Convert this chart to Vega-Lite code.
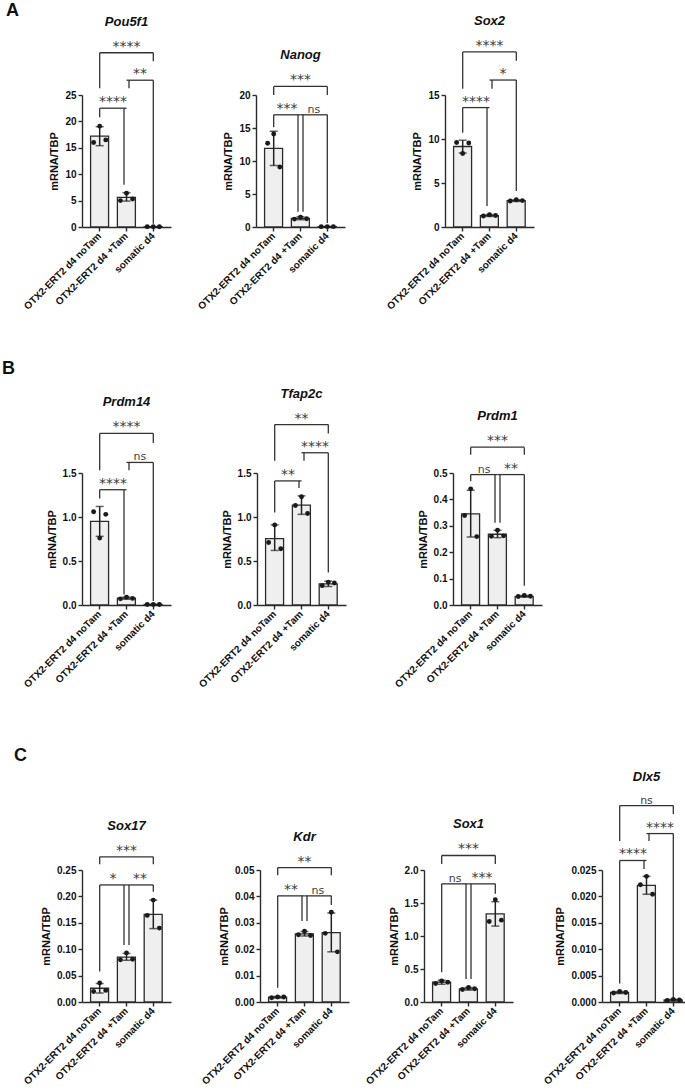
{
"$schema": "https://vega.github.io/schema/vega-lite/v6.json",
"padding": {"left": 1, "top": 1, "right": 0, "bottom": 0},
"config": {
 "view": {"stroke": null},
 "axis": {"labelFont": "Liberation Sans", "labelFontWeight": "bold", "labelFontSize": 10, "labelColor": "#111", "titleFont": "Liberation Sans", "titleFontWeight": "bold", "titleFontSize": 11, "titleColor": "#111", "domainColor": "#2b2b2b", "domainWidth": 1.4, "tickColor": "#2b2b2b", "tickWidth": 1.4, "tickSize": 4, "grid": false, "labelOverlap": false, "labelFlush": false},
 "axisX": {"labelAngle": -45, "labelAlign": "right", "labelBaseline": "middle", "labelPadding": 3},
 "axisY": {"labelPadding": 2, "titlePadding": 5},
 "title": {"font": "Liberation Sans", "fontSize": 13, "fontStyle": "italic", "fontWeight": "bold", "color": "#111", "offset": 11, "anchor": "middle", "frame": "group"},
 "rule": {"stroke": "#333", "strokeWidth": 1.3},
 "tick": {"color": "#222", "thickness": 1.5},
 "text": {"font": "DejaVu Sans", "baseline": "alphabetic", "dy": -2, "color": "#3c3c3c"},
 "bar": {"fill": "#eeefee", "stroke": "#2b2b2b", "strokeWidth": 1.3},
 "circle": {"size": 24, "color": "#1a1a1a", "opacity": 1}
},
"datasets": {
 "bars": [
  {"gene":"Pou5f1","group":"OTX2-ERT2 d4 noTam","mean":17.2,"lo":15.4,"hi":19.0},
  {"gene":"Pou5f1","group":"OTX2-ERT2 d4 +Tam","mean":5.6,"lo":4.9,"hi":6.5},
  {"gene":"Pou5f1","group":"somatic d4","mean":0.05,"lo":0.03,"hi":0.07},
  {"gene":"Nanog","group":"OTX2-ERT2 d4 noTam","mean":11.9,"lo":9.3,"hi":14.5},
  {"gene":"Nanog","group":"OTX2-ERT2 d4 +Tam","mean":1.3,"lo":1.1,"hi":1.55},
  {"gene":"Nanog","group":"somatic d4","mean":0.06,"lo":0.04,"hi":0.08},
  {"gene":"Sox2","group":"OTX2-ERT2 d4 noTam","mean":9.15,"lo":8.4,"hi":9.85},
  {"gene":"Sox2","group":"OTX2-ERT2 d4 +Tam","mean":1.3,"lo":1.2,"hi":1.42},
  {"gene":"Sox2","group":"somatic d4","mean":3.0,"lo":2.9,"hi":3.1},
  {"gene":"Prdm14","group":"OTX2-ERT2 d4 noTam","mean":0.95,"lo":0.78,"hi":1.12},
  {"gene":"Prdm14","group":"OTX2-ERT2 d4 +Tam","mean":0.077,"lo":0.065,"hi":0.09},
  {"gene":"Prdm14","group":"somatic d4","mean":0.006,"lo":0.004,"hi":0.008},
  {"gene":"Tfap2c","group":"OTX2-ERT2 d4 noTam","mean":0.755,"lo":0.62,"hi":0.91},
  {"gene":"Tfap2c","group":"OTX2-ERT2 d4 +Tam","mean":1.135,"lo":1.03,"hi":1.24},
  {"gene":"Tfap2c","group":"somatic d4","mean":0.24,"lo":0.21,"hi":0.27},
  {"gene":"Prdm1","group":"OTX2-ERT2 d4 noTam","mean":0.345,"lo":0.258,"hi":0.435},
  {"gene":"Prdm1","group":"OTX2-ERT2 d4 +Tam","mean":0.268,"lo":0.255,"hi":0.283},
  {"gene":"Prdm1","group":"somatic d4","mean":0.033,"lo":0.03,"hi":0.036},
  {"gene":"Sox17","group":"OTX2-ERT2 d4 noTam","mean":0.026,"lo":0.017,"hi":0.035},
  {"gene":"Sox17","group":"OTX2-ERT2 d4 +Tam","mean":0.085,"lo":0.079,"hi":0.092},
  {"gene":"Sox17","group":"somatic d4","mean":0.166,"lo":0.139,"hi":0.193},
  {"gene":"Kdr","group":"OTX2-ERT2 d4 noTam","mean":0.0018,"lo":0.0015,"hi":0.0021},
  {"gene":"Kdr","group":"OTX2-ERT2 d4 +Tam","mean":0.0258,"lo":0.025,"hi":0.0267},
  {"gene":"Kdr","group":"somatic d4","mean":0.0263,"lo":0.019,"hi":0.0337},
  {"gene":"Sox1","group":"OTX2-ERT2 d4 noTam","mean":0.3,"lo":0.27,"hi":0.33},
  {"gene":"Sox1","group":"OTX2-ERT2 d4 +Tam","mean":0.2,"lo":0.18,"hi":0.22},
  {"gene":"Sox1","group":"somatic d4","mean":1.335,"lo":1.15,"hi":1.52},
  {"gene":"Dlx5","group":"OTX2-ERT2 d4 noTam","mean":0.0018,"lo":0.0016,"hi":0.002},
  {"gene":"Dlx5","group":"OTX2-ERT2 d4 +Tam","mean":0.0221,"lo":0.0204,"hi":0.0238},
  {"gene":"Dlx5","group":"somatic d4","mean":0.0004,"lo":0.0003,"hi":0.0005}
 ],
 "pts": [
  {"gene":"Pou5f1","group":"OTX2-ERT2 d4 noTam","rep":1,"value":16.0},{"gene":"Pou5f1","group":"OTX2-ERT2 d4 noTam","rep":2,"value":19.1},{"gene":"Pou5f1","group":"OTX2-ERT2 d4 noTam","rep":3,"value":16.5},
  {"gene":"Pou5f1","group":"OTX2-ERT2 d4 +Tam","rep":1,"value":5.0},{"gene":"Pou5f1","group":"OTX2-ERT2 d4 +Tam","rep":2,"value":6.4},{"gene":"Pou5f1","group":"OTX2-ERT2 d4 +Tam","rep":3,"value":5.3},
  {"gene":"Pou5f1","group":"somatic d4","rep":1,"value":0.05},{"gene":"Pou5f1","group":"somatic d4","rep":2,"value":0.05},{"gene":"Pou5f1","group":"somatic d4","rep":3,"value":0.05},
  {"gene":"Nanog","group":"OTX2-ERT2 d4 noTam","rep":1,"value":12.7},{"gene":"Nanog","group":"OTX2-ERT2 d4 noTam","rep":2,"value":14.1},{"gene":"Nanog","group":"OTX2-ERT2 d4 noTam","rep":3,"value":9.1},
  {"gene":"Nanog","group":"OTX2-ERT2 d4 +Tam","rep":1,"value":1.2},{"gene":"Nanog","group":"OTX2-ERT2 d4 +Tam","rep":2,"value":1.5},{"gene":"Nanog","group":"OTX2-ERT2 d4 +Tam","rep":3,"value":1.25},
  {"gene":"Nanog","group":"somatic d4","rep":1,"value":0.05},{"gene":"Nanog","group":"somatic d4","rep":2,"value":0.06},{"gene":"Nanog","group":"somatic d4","rep":3,"value":0.05},
  {"gene":"Sox2","group":"OTX2-ERT2 d4 noTam","rep":1,"value":9.6},{"gene":"Sox2","group":"OTX2-ERT2 d4 noTam","rep":2,"value":8.35},{"gene":"Sox2","group":"OTX2-ERT2 d4 noTam","rep":3,"value":9.55},
  {"gene":"Sox2","group":"OTX2-ERT2 d4 +Tam","rep":1,"value":1.25},{"gene":"Sox2","group":"OTX2-ERT2 d4 +Tam","rep":2,"value":1.4},{"gene":"Sox2","group":"OTX2-ERT2 d4 +Tam","rep":3,"value":1.3},
  {"gene":"Sox2","group":"somatic d4","rep":1,"value":2.95},{"gene":"Sox2","group":"somatic d4","rep":2,"value":3.1},{"gene":"Sox2","group":"somatic d4","rep":3,"value":3.0},
  {"gene":"Prdm14","group":"OTX2-ERT2 d4 noTam","rep":1,"value":1.06},{"gene":"Prdm14","group":"OTX2-ERT2 d4 noTam","rep":2,"value":0.76},{"gene":"Prdm14","group":"OTX2-ERT2 d4 noTam","rep":3,"value":1.03},
  {"gene":"Prdm14","group":"OTX2-ERT2 d4 +Tam","rep":1,"value":0.07},{"gene":"Prdm14","group":"OTX2-ERT2 d4 +Tam","rep":2,"value":0.09},{"gene":"Prdm14","group":"OTX2-ERT2 d4 +Tam","rep":3,"value":0.075},
  {"gene":"Prdm14","group":"somatic d4","rep":1,"value":0.005},{"gene":"Prdm14","group":"somatic d4","rep":2,"value":0.006},{"gene":"Prdm14","group":"somatic d4","rep":3,"value":0.005},
  {"gene":"Tfap2c","group":"OTX2-ERT2 d4 noTam","rep":1,"value":0.71},{"gene":"Tfap2c","group":"OTX2-ERT2 d4 noTam","rep":2,"value":0.91},{"gene":"Tfap2c","group":"OTX2-ERT2 d4 noTam","rep":3,"value":0.64},
  {"gene":"Tfap2c","group":"OTX2-ERT2 d4 +Tam","rep":1,"value":1.13},{"gene":"Tfap2c","group":"OTX2-ERT2 d4 +Tam","rep":2,"value":1.23},{"gene":"Tfap2c","group":"OTX2-ERT2 d4 +Tam","rep":3,"value":1.04},
  {"gene":"Tfap2c","group":"somatic d4","rep":1,"value":0.22},{"gene":"Tfap2c","group":"somatic d4","rep":2,"value":0.26},{"gene":"Tfap2c","group":"somatic d4","rep":3,"value":0.25},
  {"gene":"Prdm1","group":"OTX2-ERT2 d4 noTam","rep":1,"value":0.339},{"gene":"Prdm1","group":"OTX2-ERT2 d4 noTam","rep":2,"value":0.44},{"gene":"Prdm1","group":"OTX2-ERT2 d4 noTam","rep":3,"value":0.259},
  {"gene":"Prdm1","group":"OTX2-ERT2 d4 +Tam","rep":1,"value":0.26},{"gene":"Prdm1","group":"OTX2-ERT2 d4 +Tam","rep":2,"value":0.283},{"gene":"Prdm1","group":"OTX2-ERT2 d4 +Tam","rep":3,"value":0.262},
  {"gene":"Prdm1","group":"somatic d4","rep":1,"value":0.032},{"gene":"Prdm1","group":"somatic d4","rep":2,"value":0.036},{"gene":"Prdm1","group":"somatic d4","rep":3,"value":0.033},
  {"gene":"Sox17","group":"OTX2-ERT2 d4 noTam","rep":1,"value":0.02},{"gene":"Sox17","group":"OTX2-ERT2 d4 noTam","rep":2,"value":0.036},{"gene":"Sox17","group":"OTX2-ERT2 d4 noTam","rep":3,"value":0.022},
  {"gene":"Sox17","group":"OTX2-ERT2 d4 +Tam","rep":1,"value":0.08},{"gene":"Sox17","group":"OTX2-ERT2 d4 +Tam","rep":2,"value":0.093},{"gene":"Sox17","group":"OTX2-ERT2 d4 +Tam","rep":3,"value":0.081},
  {"gene":"Sox17","group":"somatic d4","rep":1,"value":0.164},{"gene":"Sox17","group":"somatic d4","rep":2,"value":0.193},{"gene":"Sox17","group":"somatic d4","rep":3,"value":0.14},
  {"gene":"Kdr","group":"OTX2-ERT2 d4 noTam","rep":1,"value":0.0016},{"gene":"Kdr","group":"OTX2-ERT2 d4 noTam","rep":2,"value":0.0019},{"gene":"Kdr","group":"OTX2-ERT2 d4 noTam","rep":3,"value":0.0019},
  {"gene":"Kdr","group":"OTX2-ERT2 d4 +Tam","rep":1,"value":0.0255},{"gene":"Kdr","group":"OTX2-ERT2 d4 +Tam","rep":2,"value":0.0268},{"gene":"Kdr","group":"OTX2-ERT2 d4 +Tam","rep":3,"value":0.0252},
  {"gene":"Kdr","group":"somatic d4","rep":1,"value":0.026},{"gene":"Kdr","group":"somatic d4","rep":2,"value":0.034},{"gene":"Kdr","group":"somatic d4","rep":3,"value":0.019},
  {"gene":"Sox1","group":"OTX2-ERT2 d4 noTam","rep":1,"value":0.28},{"gene":"Sox1","group":"OTX2-ERT2 d4 noTam","rep":2,"value":0.32},{"gene":"Sox1","group":"OTX2-ERT2 d4 noTam","rep":3,"value":0.3},
  {"gene":"Sox1","group":"OTX2-ERT2 d4 +Tam","rep":1,"value":0.19},{"gene":"Sox1","group":"OTX2-ERT2 d4 +Tam","rep":2,"value":0.22},{"gene":"Sox1","group":"OTX2-ERT2 d4 +Tam","rep":3,"value":0.2},
  {"gene":"Sox1","group":"somatic d4","rep":1,"value":1.22},{"gene":"Sox1","group":"somatic d4","rep":2,"value":1.55},{"gene":"Sox1","group":"somatic d4","rep":3,"value":1.24},
  {"gene":"Dlx5","group":"OTX2-ERT2 d4 noTam","rep":1,"value":0.0017},{"gene":"Dlx5","group":"OTX2-ERT2 d4 noTam","rep":2,"value":0.002},{"gene":"Dlx5","group":"OTX2-ERT2 d4 noTam","rep":3,"value":0.0018},
  {"gene":"Dlx5","group":"OTX2-ERT2 d4 +Tam","rep":1,"value":0.0222},{"gene":"Dlx5","group":"OTX2-ERT2 d4 +Tam","rep":2,"value":0.0238},{"gene":"Dlx5","group":"OTX2-ERT2 d4 +Tam","rep":3,"value":0.0204},
  {"gene":"Dlx5","group":"somatic d4","rep":1,"value":0.0003},{"gene":"Dlx5","group":"somatic d4","rep":2,"value":0.0005},{"gene":"Dlx5","group":"somatic d4","rep":3,"value":0.0004}
 ],
 "br": [
  {"gene":"Pou5f1","g1":"OTX2-ERT2 d4 noTam","g2":"OTX2-ERT2 d4 +Tam","y":22.5,"yl":20.8,"yr":8.0,"label":"****"},
  {"gene":"Pou5f1","g1":"OTX2-ERT2 d4 +Tam","g2":"somatic d4","y":27.8,"yl":26.3,"yr":0.6,"label":"**"},
  {"gene":"Pou5f1","g1":"OTX2-ERT2 d4 noTam","g2":"somatic d4","y":33.0,"yl":26.3,"yr":31.4,"label":"****"},
  {"gene":"Nanog","g1":"OTX2-ERT2 d4 noTam","g2":"OTX2-ERT2 d4 +Tam","y":17.0,"yl":15.1,"yr":2.3,"label":"***"},
  {"gene":"Nanog","g1":"OTX2-ERT2 d4 +Tam","g2":"somatic d4","y":17.0,"yl":2.3,"yr":0.6,"label":"ns"},
  {"gene":"Nanog","g1":"OTX2-ERT2 d4 noTam","g2":"somatic d4","y":21.3,"yl":20.0,"yr":20.0,"label":"***"},
  {"gene":"Sox2","g1":"OTX2-ERT2 d4 noTam","g2":"OTX2-ERT2 d4 +Tam","y":13.57,"yl":10.7,"yr":2.4,"label":"****"},
  {"gene":"Sox2","g1":"OTX2-ERT2 d4 +Tam","g2":"somatic d4","y":16.7,"yl":15.7,"yr":4.1,"label":"*"},
  {"gene":"Sox2","g1":"OTX2-ERT2 d4 noTam","g2":"somatic d4","y":19.9,"yl":15.7,"yr":18.9,"label":"****"},
  {"gene":"Prdm14","g1":"OTX2-ERT2 d4 noTam","g2":"OTX2-ERT2 d4 +Tam","y":1.31,"yl":1.21,"yr":0.12,"label":"****"},
  {"gene":"Prdm14","g1":"OTX2-ERT2 d4 +Tam","g2":"somatic d4","y":1.62,"yl":1.53,"yr":0.045,"label":"ns"},
  {"gene":"Prdm14","g1":"OTX2-ERT2 d4 noTam","g2":"somatic d4","y":1.95,"yl":1.53,"yr":1.84,"label":"****"},
  {"gene":"Tfap2c","g1":"OTX2-ERT2 d4 noTam","g2":"OTX2-ERT2 d4 +Tam","y":1.41,"yl":1.05,"yr":1.33,"label":"**"},
  {"gene":"Tfap2c","g1":"OTX2-ERT2 d4 +Tam","g2":"somatic d4","y":1.73,"yl":1.64,"yr":0.37,"label":"****"},
  {"gene":"Tfap2c","g1":"OTX2-ERT2 d4 noTam","g2":"somatic d4","y":2.05,"yl":1.64,"yr":1.95,"label":"**"},
  {"gene":"Prdm1","g1":"OTX2-ERT2 d4 noTam","g2":"OTX2-ERT2 d4 +Tam","y":0.494,"yl":0.469,"yr":0.312,"label":"ns"},
  {"gene":"Prdm1","g1":"OTX2-ERT2 d4 +Tam","g2":"somatic d4","y":0.494,"yl":0.312,"yr":0.073,"label":"**"},
  {"gene":"Prdm1","g1":"OTX2-ERT2 d4 noTam","g2":"somatic d4","y":0.598,"yl":0.569,"yr":0.569,"label":"***"},
  {"gene":"Sox17","g1":"OTX2-ERT2 d4 noTam","g2":"OTX2-ERT2 d4 +Tam","y":0.2217,"yl":0.058,"yr":0.108,"label":"*"},
  {"gene":"Sox17","g1":"OTX2-ERT2 d4 +Tam","g2":"somatic d4","y":0.2217,"yl":0.108,"yr":0.209,"label":"**"},
  {"gene":"Sox17","g1":"OTX2-ERT2 d4 noTam","g2":"somatic d4","y":0.275,"yl":0.261,"yr":0.261,"label":"***"},
  {"gene":"Kdr","g1":"OTX2-ERT2 d4 noTam","g2":"OTX2-ERT2 d4 +Tam","y":0.0402,"yl":0.0054,"yr":0.0307,"label":"**"},
  {"gene":"Kdr","g1":"OTX2-ERT2 d4 +Tam","g2":"somatic d4","y":0.0402,"yl":0.0307,"yr":0.0367,"label":"ns"},
  {"gene":"Kdr","g1":"OTX2-ERT2 d4 noTam","g2":"somatic d4","y":0.0509,"yl":0.048,"yr":0.048,"label":"**"},
  {"gene":"Sox1","g1":"OTX2-ERT2 d4 noTam","g2":"OTX2-ERT2 d4 +Tam","y":1.79,"yl":0.45,"yr":0.35,"label":"ns"},
  {"gene":"Sox1","g1":"OTX2-ERT2 d4 +Tam","g2":"somatic d4","y":1.79,"yl":0.35,"yr":1.64,"label":"***"},
  {"gene":"Sox1","g1":"OTX2-ERT2 d4 noTam","g2":"somatic d4","y":2.22,"yl":2.09,"yr":2.09,"label":"***"},
  {"gene":"Dlx5","g1":"OTX2-ERT2 d4 noTam","g2":"OTX2-ERT2 d4 +Tam","y":0.0268,"yl":0.0035,"yr":0.0252,"label":"****"},
  {"gene":"Dlx5","g1":"OTX2-ERT2 d4 +Tam","g2":"somatic d4","y":0.0319,"yl":0.0305,"yr":0.0009,"label":"****"},
  {"gene":"Dlx5","g1":"OTX2-ERT2 d4 noTam","g2":"somatic d4","y":0.0372,"yl":0.0305,"yr":0.0356,"label":"ns"}
 ]
},
"spacing": 47,
"vconcat": [
 {"title": {"text": "A", "anchor": "start", "frame": "bounds", "fontSize": 18, "fontStyle": "normal", "fontWeight": "bold", "offset": -5, "dx": -16},
  "bounds": "flush", "spacing": 0,
  "hconcat": [
   {"width": 89, "height": 132, "title": "Pou5f1", "layer": [
    {"data": {"name": "bars"}, "transform": [{"filter": "datum.gene=='Pou5f1'"}], "mark": "bar", "encoding": {"x": {"field": "group", "type": "nominal", "sort": null, "title": null, "scale": {"domain": ["OTX2-ERT2 d4 noTam", "OTX2-ERT2 d4 +Tam", "somatic d4"], "paddingInner": 0.32, "paddingOuter": 0.32}}, "y": {"field": "mean", "type": "quantitative", "title": "mRNA/TBP", "scale": {"domain": [0, 25], "nice": false}, "axis": {"values": [0,5,10,15,20,25], "format": "d"}}}},
    {"data": {"name": "bars"}, "transform": [{"filter": "datum.gene=='Pou5f1'"}], "mark": {"type": "rule", "stroke": "#222", "strokeWidth": 1.5}, "encoding": {"x": {"field": "group", "type": "nominal"}, "y": {"field": "lo", "type": "quantitative", "axis": {"values": [0,5,10,15,20,25], "format": "d"}}, "y2": {"field": "hi"}}},
    {"data": {"name": "bars"}, "transform": [{"filter": "datum.gene=='Pou5f1'"}], "mark": {"type": "tick", "size": 8}, "encoding": {"x": {"field": "group", "type": "nominal"}, "y": {"field": "hi", "type": "quantitative", "axis": {"values": [0,5,10,15,20,25], "format": "d"}}}},
    {"data": {"name": "bars"}, "transform": [{"filter": "datum.gene=='Pou5f1'"}], "mark": {"type": "tick", "size": 8}, "encoding": {"x": {"field": "group", "type": "nominal"}, "y": {"field": "lo", "type": "quantitative", "axis": {"values": [0,5,10,15,20,25], "format": "d"}}}},
    {"data": {"name": "pts"}, "transform": [{"filter": "datum.gene=='Pou5f1'"}], "mark": "circle", "encoding": {"x": {"field": "group", "type": "nominal"}, "xOffset": {"field": "rep", "type": "nominal", "scale": {"paddingInner": 0, "paddingOuter": 0.5}}, "y": {"field": "value", "type": "quantitative", "axis": {"values": [0,5,10,15,20,25], "format": "d"}}}},
    {"data": {"name": "br"}, "transform": [{"filter": "datum.gene=='Pou5f1'"}], "mark": "rule", "encoding": {"x": {"field": "g1", "type": "nominal"}, "x2": {"field": "g2"}, "y": {"field": "y", "type": "quantitative", "axis": {"values": [0,5,10,15,20,25], "format": "d"}}}},
    {"data": {"name": "br"}, "transform": [{"filter": "datum.gene=='Pou5f1' && datum.g1!='OTX2-ERT2 d4 +Tam'"}], "mark": "rule", "encoding": {"x": {"field": "g1", "type": "nominal", "bandPosition": 0.5}, "y": {"field": "y", "type": "quantitative", "axis": {"values": [0,5,10,15,20,25], "format": "d"}}, "y2": {"field": "yl"}}},
    {"data": {"name": "br"}, "transform": [{"filter": "datum.gene=='Pou5f1' && datum.g1=='OTX2-ERT2 d4 +Tam'"}], "mark": "rule", "encoding": {"x": {"field": "g1", "type": "nominal", "bandPosition": 0.637}, "y": {"field": "y", "type": "quantitative", "axis": {"values": [0,5,10,15,20,25], "format": "d"}}, "y2": {"field": "yl"}}},
    {"data": {"name": "br"}, "transform": [{"filter": "datum.gene=='Pou5f1' && datum.g2!='OTX2-ERT2 d4 +Tam'"}], "mark": "rule", "encoding": {"x": {"field": "g2", "type": "nominal", "bandPosition": 0.5}, "y": {"field": "y", "type": "quantitative", "axis": {"values": [0,5,10,15,20,25], "format": "d"}}, "y2": {"field": "yr"}}},
    {"data": {"name": "br"}, "transform": [{"filter": "datum.gene=='Pou5f1' && datum.g2=='OTX2-ERT2 d4 +Tam'"}], "mark": "rule", "encoding": {"x": {"field": "g2", "type": "nominal", "bandPosition": 0.363}, "y": {"field": "y", "type": "quantitative", "axis": {"values": [0,5,10,15,20,25], "format": "d"}}, "y2": {"field": "yr"}}},
    {"data": {"name": "br"}, "transform": [{"filter": "datum.gene=='Pou5f1' && !(datum.g1=='OTX2-ERT2 d4 noTam' && datum.g2=='somatic d4')"}], "mark": "text", "encoding": {"x": {"field": "g1", "type": "nominal", "bandPosition": 1.235}, "y": {"field": "y", "type": "quantitative", "axis": {"values": [0,5,10,15,20,25], "format": "d"}}, "text": {"field": "label"}, "size": {"condition": {"test": "datum.label=='ns'", "value": 11}, "value": 14}}},
    {"data": {"name": "br"}, "transform": [{"filter": "datum.gene=='Pou5f1' && datum.g1=='OTX2-ERT2 d4 noTam' && datum.g2=='somatic d4'"}], "mark": "text", "encoding": {"x": {"field": "g1", "type": "nominal", "bandPosition": 1.97}, "y": {"field": "y", "type": "quantitative", "axis": {"values": [0,5,10,15,20,25], "format": "d"}}, "text": {"field": "label"}, "size": {"condition": {"test": "datum.label=='ns'", "value": 11}, "value": 14}}}
   ]},
   {"width": 85, "height": 132, "data": {"values": []}, "mark": "point", "encoding": {}},
   {"width": 89, "height": 132, "title": "Nanog", "layer": [
    {"data": {"name": "bars"}, "transform": [{"filter": "datum.gene=='Nanog'"}], "mark": "bar", "encoding": {"x": {"field": "group", "type": "nominal", "sort": null, "title": null, "scale": {"domain": ["OTX2-ERT2 d4 noTam", "OTX2-ERT2 d4 +Tam", "somatic d4"], "paddingInner": 0.32, "paddingOuter": 0.32}}, "y": {"field": "mean", "type": "quantitative", "title": "mRNA/TBP", "scale": {"domain": [0, 20], "nice": false}, "axis": {"values": [0,5,10,15,20], "format": "d"}}}},
    {"data": {"name": "bars"}, "transform": [{"filter": "datum.gene=='Nanog'"}], "mark": {"type": "rule", "stroke": "#222", "strokeWidth": 1.5}, "encoding": {"x": {"field": "group", "type": "nominal"}, "y": {"field": "lo", "type": "quantitative", "axis": {"values": [0,5,10,15,20], "format": "d"}}, "y2": {"field": "hi"}}},
    {"data": {"name": "bars"}, "transform": [{"filter": "datum.gene=='Nanog'"}], "mark": {"type": "tick", "size": 8}, "encoding": {"x": {"field": "group", "type": "nominal"}, "y": {"field": "hi", "type": "quantitative", "axis": {"values": [0,5,10,15,20], "format": "d"}}}},
    {"data": {"name": "bars"}, "transform": [{"filter": "datum.gene=='Nanog'"}], "mark": {"type": "tick", "size": 8}, "encoding": {"x": {"field": "group", "type": "nominal"}, "y": {"field": "lo", "type": "quantitative", "axis": {"values": [0,5,10,15,20], "format": "d"}}}},
    {"data": {"name": "pts"}, "transform": [{"filter": "datum.gene=='Nanog'"}], "mark": "circle", "encoding": {"x": {"field": "group", "type": "nominal"}, "xOffset": {"field": "rep", "type": "nominal", "scale": {"paddingInner": 0, "paddingOuter": 0.5}}, "y": {"field": "value", "type": "quantitative", "axis": {"values": [0,5,10,15,20], "format": "d"}}}},
    {"data": {"name": "br"}, "transform": [{"filter": "datum.gene=='Nanog'"}], "mark": "rule", "encoding": {"x": {"field": "g1", "type": "nominal"}, "x2": {"field": "g2"}, "y": {"field": "y", "type": "quantitative", "axis": {"values": [0,5,10,15,20], "format": "d"}}}},
    {"data": {"name": "br"}, "transform": [{"filter": "datum.gene=='Nanog' && datum.g1!='OTX2-ERT2 d4 +Tam'"}], "mark": "rule", "encoding": {"x": {"field": "g1", "type": "nominal", "bandPosition": 0.5}, "y": {"field": "y", "type": "quantitative", "axis": {"values": [0,5,10,15,20], "format": "d"}}, "y2": {"field": "yl"}}},
    {"data": {"name": "br"}, "transform": [{"filter": "datum.gene=='Nanog' && datum.g1=='OTX2-ERT2 d4 +Tam'"}], "mark": "rule", "encoding": {"x": {"field": "g1", "type": "nominal", "bandPosition": 0.637}, "y": {"field": "y", "type": "quantitative", "axis": {"values": [0,5,10,15,20], "format": "d"}}, "y2": {"field": "yl"}}},
    {"data": {"name": "br"}, "transform": [{"filter": "datum.gene=='Nanog' && datum.g2!='OTX2-ERT2 d4 +Tam'"}], "mark": "rule", "encoding": {"x": {"field": "g2", "type": "nominal", "bandPosition": 0.5}, "y": {"field": "y", "type": "quantitative", "axis": {"values": [0,5,10,15,20], "format": "d"}}, "y2": {"field": "yr"}}},
    {"data": {"name": "br"}, "transform": [{"filter": "datum.gene=='Nanog' && datum.g2=='OTX2-ERT2 d4 +Tam'"}], "mark": "rule", "encoding": {"x": {"field": "g2", "type": "nominal", "bandPosition": 0.363}, "y": {"field": "y", "type": "quantitative", "axis": {"values": [0,5,10,15,20], "format": "d"}}, "y2": {"field": "yr"}}},
    {"data": {"name": "br"}, "transform": [{"filter": "datum.gene=='Nanog' && !(datum.g1=='OTX2-ERT2 d4 noTam' && datum.g2=='somatic d4')"}], "mark": "text", "encoding": {"x": {"field": "g1", "type": "nominal", "bandPosition": 1.235}, "y": {"field": "y", "type": "quantitative", "axis": {"values": [0,5,10,15,20], "format": "d"}}, "text": {"field": "label"}, "size": {"condition": {"test": "datum.label=='ns'", "value": 11}, "value": 14}}},
    {"data": {"name": "br"}, "transform": [{"filter": "datum.gene=='Nanog' && datum.g1=='OTX2-ERT2 d4 noTam' && datum.g2=='somatic d4'"}], "mark": "text", "encoding": {"x": {"field": "g1", "type": "nominal", "bandPosition": 1.97}, "y": {"field": "y", "type": "quantitative", "axis": {"values": [0,5,10,15,20], "format": "d"}}, "text": {"field": "label"}, "size": {"condition": {"test": "datum.label=='ns'", "value": 11}, "value": 14}}}
   ]},
   {"width": 100, "height": 132, "data": {"values": []}, "mark": "point", "encoding": {}},
   {"width": 89, "height": 132, "title": "Sox2", "layer": [
    {"data": {"name": "bars"}, "transform": [{"filter": "datum.gene=='Sox2'"}], "mark": "bar", "encoding": {"x": {"field": "group", "type": "nominal", "sort": null, "title": null, "scale": {"domain": ["OTX2-ERT2 d4 noTam", "OTX2-ERT2 d4 +Tam", "somatic d4"], "paddingInner": 0.32, "paddingOuter": 0.32}}, "y": {"field": "mean", "type": "quantitative", "title": "mRNA/TBP", "scale": {"domain": [0, 15], "nice": false}, "axis": {"values": [0,5,10,15], "format": "d"}}}},
    {"data": {"name": "bars"}, "transform": [{"filter": "datum.gene=='Sox2'"}], "mark": {"type": "rule", "stroke": "#222", "strokeWidth": 1.5}, "encoding": {"x": {"field": "group", "type": "nominal"}, "y": {"field": "lo", "type": "quantitative", "axis": {"values": [0,5,10,15], "format": "d"}}, "y2": {"field": "hi"}}},
    {"data": {"name": "bars"}, "transform": [{"filter": "datum.gene=='Sox2'"}], "mark": {"type": "tick", "size": 8}, "encoding": {"x": {"field": "group", "type": "nominal"}, "y": {"field": "hi", "type": "quantitative", "axis": {"values": [0,5,10,15], "format": "d"}}}},
    {"data": {"name": "bars"}, "transform": [{"filter": "datum.gene=='Sox2'"}], "mark": {"type": "tick", "size": 8}, "encoding": {"x": {"field": "group", "type": "nominal"}, "y": {"field": "lo", "type": "quantitative", "axis": {"values": [0,5,10,15], "format": "d"}}}},
    {"data": {"name": "pts"}, "transform": [{"filter": "datum.gene=='Sox2'"}], "mark": "circle", "encoding": {"x": {"field": "group", "type": "nominal"}, "xOffset": {"field": "rep", "type": "nominal", "scale": {"paddingInner": 0, "paddingOuter": 0.5}}, "y": {"field": "value", "type": "quantitative", "axis": {"values": [0,5,10,15], "format": "d"}}}},
    {"data": {"name": "br"}, "transform": [{"filter": "datum.gene=='Sox2'"}], "mark": "rule", "encoding": {"x": {"field": "g1", "type": "nominal"}, "x2": {"field": "g2"}, "y": {"field": "y", "type": "quantitative", "axis": {"values": [0,5,10,15], "format": "d"}}}},
    {"data": {"name": "br"}, "transform": [{"filter": "datum.gene=='Sox2' && datum.g1!='OTX2-ERT2 d4 +Tam'"}], "mark": "rule", "encoding": {"x": {"field": "g1", "type": "nominal", "bandPosition": 0.5}, "y": {"field": "y", "type": "quantitative", "axis": {"values": [0,5,10,15], "format": "d"}}, "y2": {"field": "yl"}}},
    {"data": {"name": "br"}, "transform": [{"filter": "datum.gene=='Sox2' && datum.g1=='OTX2-ERT2 d4 +Tam'"}], "mark": "rule", "encoding": {"x": {"field": "g1", "type": "nominal", "bandPosition": 0.637}, "y": {"field": "y", "type": "quantitative", "axis": {"values": [0,5,10,15], "format": "d"}}, "y2": {"field": "yl"}}},
    {"data": {"name": "br"}, "transform": [{"filter": "datum.gene=='Sox2' && datum.g2!='OTX2-ERT2 d4 +Tam'"}], "mark": "rule", "encoding": {"x": {"field": "g2", "type": "nominal", "bandPosition": 0.5}, "y": {"field": "y", "type": "quantitative", "axis": {"values": [0,5,10,15], "format": "d"}}, "y2": {"field": "yr"}}},
    {"data": {"name": "br"}, "transform": [{"filter": "datum.gene=='Sox2' && datum.g2=='OTX2-ERT2 d4 +Tam'"}], "mark": "rule", "encoding": {"x": {"field": "g2", "type": "nominal", "bandPosition": 0.363}, "y": {"field": "y", "type": "quantitative", "axis": {"values": [0,5,10,15], "format": "d"}}, "y2": {"field": "yr"}}},
    {"data": {"name": "br"}, "transform": [{"filter": "datum.gene=='Sox2' && !(datum.g1=='OTX2-ERT2 d4 noTam' && datum.g2=='somatic d4')"}], "mark": "text", "encoding": {"x": {"field": "g1", "type": "nominal", "bandPosition": 1.235}, "y": {"field": "y", "type": "quantitative", "axis": {"values": [0,5,10,15], "format": "d"}}, "text": {"field": "label"}, "size": {"condition": {"test": "datum.label=='ns'", "value": 11}, "value": 14}}},
    {"data": {"name": "br"}, "transform": [{"filter": "datum.gene=='Sox2' && datum.g1=='OTX2-ERT2 d4 noTam' && datum.g2=='somatic d4'"}], "mark": "text", "encoding": {"x": {"field": "g1", "type": "nominal", "bandPosition": 1.97}, "y": {"field": "y", "type": "quantitative", "axis": {"values": [0,5,10,15], "format": "d"}}, "text": {"field": "label"}, "size": {"condition": {"test": "datum.label=='ns'", "value": 11}, "value": 14}}}
   ]}
  ]
 },
 {"spacing": 56, "vconcat": [
  {"title": {"text": "B", "anchor": "start", "frame": "bounds", "fontSize": 18, "fontStyle": "normal", "fontWeight": "bold", "offset": 10, "dx": -20},
   "bounds": "flush", "spacing": 0,
   "hconcat": [
    {"width": 89, "height": 132, "title": "Prdm14", "layer": [
     {"data": {"name": "bars"}, "transform": [{"filter": "datum.gene=='Prdm14'"}], "mark": "bar", "encoding": {"x": {"field": "group", "type": "nominal", "sort": null, "title": null, "scale": {"domain": ["OTX2-ERT2 d4 noTam", "OTX2-ERT2 d4 +Tam", "somatic d4"], "paddingInner": 0.32, "paddingOuter": 0.32}}, "y": {"field": "mean", "type": "quantitative", "title": "mRNA/TBP", "scale": {"domain": [0, 1.5], "nice": false}, "axis": {"values": [0,0.5,1,1.5], "format": ".1f"}}}},
     {"data": {"name": "bars"}, "transform": [{"filter": "datum.gene=='Prdm14'"}], "mark": {"type": "rule", "stroke": "#222", "strokeWidth": 1.5}, "encoding": {"x": {"field": "group", "type": "nominal"}, "y": {"field": "lo", "type": "quantitative", "axis": {"values": [0,0.5,1,1.5], "format": ".1f"}}, "y2": {"field": "hi"}}},
     {"data": {"name": "bars"}, "transform": [{"filter": "datum.gene=='Prdm14'"}], "mark": {"type": "tick", "size": 8}, "encoding": {"x": {"field": "group", "type": "nominal"}, "y": {"field": "hi", "type": "quantitative", "axis": {"values": [0,0.5,1,1.5], "format": ".1f"}}}},
     {"data": {"name": "bars"}, "transform": [{"filter": "datum.gene=='Prdm14'"}], "mark": {"type": "tick", "size": 8}, "encoding": {"x": {"field": "group", "type": "nominal"}, "y": {"field": "lo", "type": "quantitative", "axis": {"values": [0,0.5,1,1.5], "format": ".1f"}}}},
     {"data": {"name": "pts"}, "transform": [{"filter": "datum.gene=='Prdm14'"}], "mark": "circle", "encoding": {"x": {"field": "group", "type": "nominal"}, "xOffset": {"field": "rep", "type": "nominal", "scale": {"paddingInner": 0, "paddingOuter": 0.5}}, "y": {"field": "value", "type": "quantitative", "axis": {"values": [0,0.5,1,1.5], "format": ".1f"}}}},
     {"data": {"name": "br"}, "transform": [{"filter": "datum.gene=='Prdm14'"}], "mark": "rule", "encoding": {"x": {"field": "g1", "type": "nominal"}, "x2": {"field": "g2"}, "y": {"field": "y", "type": "quantitative", "axis": {"values": [0,0.5,1,1.5], "format": ".1f"}}}},
     {"data": {"name": "br"}, "transform": [{"filter": "datum.gene=='Prdm14' && datum.g1!='OTX2-ERT2 d4 +Tam'"}], "mark": "rule", "encoding": {"x": {"field": "g1", "type": "nominal", "bandPosition": 0.5}, "y": {"field": "y", "type": "quantitative", "axis": {"values": [0,0.5,1,1.5], "format": ".1f"}}, "y2": {"field": "yl"}}},
     {"data": {"name": "br"}, "transform": [{"filter": "datum.gene=='Prdm14' && datum.g1=='OTX2-ERT2 d4 +Tam'"}], "mark": "rule", "encoding": {"x": {"field": "g1", "type": "nominal", "bandPosition": 0.637}, "y": {"field": "y", "type": "quantitative", "axis": {"values": [0,0.5,1,1.5], "format": ".1f"}}, "y2": {"field": "yl"}}},
     {"data": {"name": "br"}, "transform": [{"filter": "datum.gene=='Prdm14' && datum.g2!='OTX2-ERT2 d4 +Tam'"}], "mark": "rule", "encoding": {"x": {"field": "g2", "type": "nominal", "bandPosition": 0.5}, "y": {"field": "y", "type": "quantitative", "axis": {"values": [0,0.5,1,1.5], "format": ".1f"}}, "y2": {"field": "yr"}}},
     {"data": {"name": "br"}, "transform": [{"filter": "datum.gene=='Prdm14' && datum.g2=='OTX2-ERT2 d4 +Tam'"}], "mark": "rule", "encoding": {"x": {"field": "g2", "type": "nominal", "bandPosition": 0.363}, "y": {"field": "y", "type": "quantitative", "axis": {"values": [0,0.5,1,1.5], "format": ".1f"}}, "y2": {"field": "yr"}}},
     {"data": {"name": "br"}, "transform": [{"filter": "datum.gene=='Prdm14' && !(datum.g1=='OTX2-ERT2 d4 noTam' && datum.g2=='somatic d4')"}], "mark": "text", "encoding": {"x": {"field": "g1", "type": "nominal", "bandPosition": 1.235}, "y": {"field": "y", "type": "quantitative", "axis": {"values": [0,0.5,1,1.5], "format": ".1f"}}, "text": {"field": "label"}, "size": {"condition": {"test": "datum.label=='ns'", "value": 11}, "value": 14}}},
     {"data": {"name": "br"}, "transform": [{"filter": "datum.gene=='Prdm14' && datum.g1=='OTX2-ERT2 d4 noTam' && datum.g2=='somatic d4'"}], "mark": "text", "encoding": {"x": {"field": "g1", "type": "nominal", "bandPosition": 1.97}, "y": {"field": "y", "type": "quantitative", "axis": {"values": [0,0.5,1,1.5], "format": ".1f"}}, "text": {"field": "label"}, "size": {"condition": {"test": "datum.label=='ns'", "value": 11}, "value": 14}}}
    ]},
    {"width": 86, "height": 132, "data": {"values": []}, "mark": "point", "encoding": {}},
    {"width": 89, "height": 132, "title": "Tfap2c", "layer": [
     {"data": {"name": "bars"}, "transform": [{"filter": "datum.gene=='Tfap2c'"}], "mark": "bar", "encoding": {"x": {"field": "group", "type": "nominal", "sort": null, "title": null, "scale": {"domain": ["OTX2-ERT2 d4 noTam", "OTX2-ERT2 d4 +Tam", "somatic d4"], "paddingInner": 0.32, "paddingOuter": 0.32}}, "y": {"field": "mean", "type": "quantitative", "title": "mRNA/TBP", "scale": {"domain": [0, 1.5], "nice": false}, "axis": {"values": [0,0.5,1,1.5], "format": ".1f"}}}},
     {"data": {"name": "bars"}, "transform": [{"filter": "datum.gene=='Tfap2c'"}], "mark": {"type": "rule", "stroke": "#222", "strokeWidth": 1.5}, "encoding": {"x": {"field": "group", "type": "nominal"}, "y": {"field": "lo", "type": "quantitative", "axis": {"values": [0,0.5,1,1.5], "format": ".1f"}}, "y2": {"field": "hi"}}},
     {"data": {"name": "bars"}, "transform": [{"filter": "datum.gene=='Tfap2c'"}], "mark": {"type": "tick", "size": 8}, "encoding": {"x": {"field": "group", "type": "nominal"}, "y": {"field": "hi", "type": "quantitative", "axis": {"values": [0,0.5,1,1.5], "format": ".1f"}}}},
     {"data": {"name": "bars"}, "transform": [{"filter": "datum.gene=='Tfap2c'"}], "mark": {"type": "tick", "size": 8}, "encoding": {"x": {"field": "group", "type": "nominal"}, "y": {"field": "lo", "type": "quantitative", "axis": {"values": [0,0.5,1,1.5], "format": ".1f"}}}},
     {"data": {"name": "pts"}, "transform": [{"filter": "datum.gene=='Tfap2c'"}], "mark": "circle", "encoding": {"x": {"field": "group", "type": "nominal"}, "xOffset": {"field": "rep", "type": "nominal", "scale": {"paddingInner": 0, "paddingOuter": 0.5}}, "y": {"field": "value", "type": "quantitative", "axis": {"values": [0,0.5,1,1.5], "format": ".1f"}}}},
     {"data": {"name": "br"}, "transform": [{"filter": "datum.gene=='Tfap2c'"}], "mark": "rule", "encoding": {"x": {"field": "g1", "type": "nominal"}, "x2": {"field": "g2"}, "y": {"field": "y", "type": "quantitative", "axis": {"values": [0,0.5,1,1.5], "format": ".1f"}}}},
     {"data": {"name": "br"}, "transform": [{"filter": "datum.gene=='Tfap2c' && datum.g1!='OTX2-ERT2 d4 +Tam'"}], "mark": "rule", "encoding": {"x": {"field": "g1", "type": "nominal", "bandPosition": 0.5}, "y": {"field": "y", "type": "quantitative", "axis": {"values": [0,0.5,1,1.5], "format": ".1f"}}, "y2": {"field": "yl"}}},
     {"data": {"name": "br"}, "transform": [{"filter": "datum.gene=='Tfap2c' && datum.g1=='OTX2-ERT2 d4 +Tam'"}], "mark": "rule", "encoding": {"x": {"field": "g1", "type": "nominal", "bandPosition": 0.637}, "y": {"field": "y", "type": "quantitative", "axis": {"values": [0,0.5,1,1.5], "format": ".1f"}}, "y2": {"field": "yl"}}},
     {"data": {"name": "br"}, "transform": [{"filter": "datum.gene=='Tfap2c' && datum.g2!='OTX2-ERT2 d4 +Tam'"}], "mark": "rule", "encoding": {"x": {"field": "g2", "type": "nominal", "bandPosition": 0.5}, "y": {"field": "y", "type": "quantitative", "axis": {"values": [0,0.5,1,1.5], "format": ".1f"}}, "y2": {"field": "yr"}}},
     {"data": {"name": "br"}, "transform": [{"filter": "datum.gene=='Tfap2c' && datum.g2=='OTX2-ERT2 d4 +Tam'"}], "mark": "rule", "encoding": {"x": {"field": "g2", "type": "nominal", "bandPosition": 0.363}, "y": {"field": "y", "type": "quantitative", "axis": {"values": [0,0.5,1,1.5], "format": ".1f"}}, "y2": {"field": "yr"}}},
     {"data": {"name": "br"}, "transform": [{"filter": "datum.gene=='Tfap2c' && !(datum.g1=='OTX2-ERT2 d4 noTam' && datum.g2=='somatic d4')"}], "mark": "text", "encoding": {"x": {"field": "g1", "type": "nominal", "bandPosition": 1.235}, "y": {"field": "y", "type": "quantitative", "axis": {"values": [0,0.5,1,1.5], "format": ".1f"}}, "text": {"field": "label"}, "size": {"condition": {"test": "datum.label=='ns'", "value": 11}, "value": 14}}},
     {"data": {"name": "br"}, "transform": [{"filter": "datum.gene=='Tfap2c' && datum.g1=='OTX2-ERT2 d4 noTam' && datum.g2=='somatic d4'"}], "mark": "text", "encoding": {"x": {"field": "g1", "type": "nominal", "bandPosition": 1.97}, "y": {"field": "y", "type": "quantitative", "axis": {"values": [0,0.5,1,1.5], "format": ".1f"}}, "text": {"field": "label"}, "size": {"condition": {"test": "datum.label=='ns'", "value": 11}, "value": 14}}}
    ]},
    {"width": 107, "height": 132, "data": {"values": []}, "mark": "point", "encoding": {}},
    {"width": 89, "height": 132, "title": "Prdm1", "layer": [
     {"data": {"name": "bars"}, "transform": [{"filter": "datum.gene=='Prdm1'"}], "mark": "bar", "encoding": {"x": {"field": "group", "type": "nominal", "sort": null, "title": null, "scale": {"domain": ["OTX2-ERT2 d4 noTam", "OTX2-ERT2 d4 +Tam", "somatic d4"], "paddingInner": 0.32, "paddingOuter": 0.32}}, "y": {"field": "mean", "type": "quantitative", "title": "mRNA/TBP", "scale": {"domain": [0, 0.5], "nice": false}, "axis": {"values": [0,0.1,0.2,0.3,0.4,0.5], "format": ".1f"}}}},
     {"data": {"name": "bars"}, "transform": [{"filter": "datum.gene=='Prdm1'"}], "mark": {"type": "rule", "stroke": "#222", "strokeWidth": 1.5}, "encoding": {"x": {"field": "group", "type": "nominal"}, "y": {"field": "lo", "type": "quantitative", "axis": {"values": [0,0.1,0.2,0.3,0.4,0.5], "format": ".1f"}}, "y2": {"field": "hi"}}},
     {"data": {"name": "bars"}, "transform": [{"filter": "datum.gene=='Prdm1'"}], "mark": {"type": "tick", "size": 8}, "encoding": {"x": {"field": "group", "type": "nominal"}, "y": {"field": "hi", "type": "quantitative", "axis": {"values": [0,0.1,0.2,0.3,0.4,0.5], "format": ".1f"}}}},
     {"data": {"name": "bars"}, "transform": [{"filter": "datum.gene=='Prdm1'"}], "mark": {"type": "tick", "size": 8}, "encoding": {"x": {"field": "group", "type": "nominal"}, "y": {"field": "lo", "type": "quantitative", "axis": {"values": [0,0.1,0.2,0.3,0.4,0.5], "format": ".1f"}}}},
     {"data": {"name": "pts"}, "transform": [{"filter": "datum.gene=='Prdm1'"}], "mark": "circle", "encoding": {"x": {"field": "group", "type": "nominal"}, "xOffset": {"field": "rep", "type": "nominal", "scale": {"paddingInner": 0, "paddingOuter": 0.5}}, "y": {"field": "value", "type": "quantitative", "axis": {"values": [0,0.1,0.2,0.3,0.4,0.5], "format": ".1f"}}}},
     {"data": {"name": "br"}, "transform": [{"filter": "datum.gene=='Prdm1'"}], "mark": "rule", "encoding": {"x": {"field": "g1", "type": "nominal"}, "x2": {"field": "g2"}, "y": {"field": "y", "type": "quantitative", "axis": {"values": [0,0.1,0.2,0.3,0.4,0.5], "format": ".1f"}}}},
     {"data": {"name": "br"}, "transform": [{"filter": "datum.gene=='Prdm1' && datum.g1!='OTX2-ERT2 d4 +Tam'"}], "mark": "rule", "encoding": {"x": {"field": "g1", "type": "nominal", "bandPosition": 0.5}, "y": {"field": "y", "type": "quantitative", "axis": {"values": [0,0.1,0.2,0.3,0.4,0.5], "format": ".1f"}}, "y2": {"field": "yl"}}},
     {"data": {"name": "br"}, "transform": [{"filter": "datum.gene=='Prdm1' && datum.g1=='OTX2-ERT2 d4 +Tam'"}], "mark": "rule", "encoding": {"x": {"field": "g1", "type": "nominal", "bandPosition": 0.637}, "y": {"field": "y", "type": "quantitative", "axis": {"values": [0,0.1,0.2,0.3,0.4,0.5], "format": ".1f"}}, "y2": {"field": "yl"}}},
     {"data": {"name": "br"}, "transform": [{"filter": "datum.gene=='Prdm1' && datum.g2!='OTX2-ERT2 d4 +Tam'"}], "mark": "rule", "encoding": {"x": {"field": "g2", "type": "nominal", "bandPosition": 0.5}, "y": {"field": "y", "type": "quantitative", "axis": {"values": [0,0.1,0.2,0.3,0.4,0.5], "format": ".1f"}}, "y2": {"field": "yr"}}},
     {"data": {"name": "br"}, "transform": [{"filter": "datum.gene=='Prdm1' && datum.g2=='OTX2-ERT2 d4 +Tam'"}], "mark": "rule", "encoding": {"x": {"field": "g2", "type": "nominal", "bandPosition": 0.363}, "y": {"field": "y", "type": "quantitative", "axis": {"values": [0,0.1,0.2,0.3,0.4,0.5], "format": ".1f"}}, "y2": {"field": "yr"}}},
     {"data": {"name": "br"}, "transform": [{"filter": "datum.gene=='Prdm1' && !(datum.g1=='OTX2-ERT2 d4 noTam' && datum.g2=='somatic d4')"}], "mark": "text", "encoding": {"x": {"field": "g1", "type": "nominal", "bandPosition": 1.235}, "y": {"field": "y", "type": "quantitative", "axis": {"values": [0,0.1,0.2,0.3,0.4,0.5], "format": ".1f"}}, "text": {"field": "label"}, "size": {"condition": {"test": "datum.label=='ns'", "value": 11}, "value": 14}}},
     {"data": {"name": "br"}, "transform": [{"filter": "datum.gene=='Prdm1' && datum.g1=='OTX2-ERT2 d4 noTam' && datum.g2=='somatic d4'"}], "mark": "text", "encoding": {"x": {"field": "g1", "type": "nominal", "bandPosition": 1.97}, "y": {"field": "y", "type": "quantitative", "axis": {"values": [0,0.1,0.2,0.3,0.4,0.5], "format": ".1f"}}, "text": {"field": "label"}, "size": {"condition": {"test": "datum.label=='ns'", "value": 11}, "value": 14}}}
    ]}
   ]
  },
  {"title": {"text": "C", "anchor": "start", "frame": "bounds", "fontSize": 18, "fontStyle": "normal", "fontWeight": "bold", "offset": 6, "dx": -8},
   "bounds": "flush", "spacing": 0,
   "hconcat": [
    {"width": 89, "height": 132, "title": "Sox17", "layer": [
     {"data": {"name": "bars"}, "transform": [{"filter": "datum.gene=='Sox17'"}], "mark": "bar", "encoding": {"x": {"field": "group", "type": "nominal", "sort": null, "title": null, "scale": {"domain": ["OTX2-ERT2 d4 noTam", "OTX2-ERT2 d4 +Tam", "somatic d4"], "paddingInner": 0.32, "paddingOuter": 0.32}}, "y": {"field": "mean", "type": "quantitative", "title": "mRNA/TBP", "scale": {"domain": [0, 0.25], "nice": false}, "axis": {"values": [0,0.05,0.1,0.15,0.2,0.25], "format": ".2f"}}}},
     {"data": {"name": "bars"}, "transform": [{"filter": "datum.gene=='Sox17'"}], "mark": {"type": "rule", "stroke": "#222", "strokeWidth": 1.5}, "encoding": {"x": {"field": "group", "type": "nominal"}, "y": {"field": "lo", "type": "quantitative", "axis": {"values": [0,0.05,0.1,0.15,0.2,0.25], "format": ".2f"}}, "y2": {"field": "hi"}}},
     {"data": {"name": "bars"}, "transform": [{"filter": "datum.gene=='Sox17'"}], "mark": {"type": "tick", "size": 8}, "encoding": {"x": {"field": "group", "type": "nominal"}, "y": {"field": "hi", "type": "quantitative", "axis": {"values": [0,0.05,0.1,0.15,0.2,0.25], "format": ".2f"}}}},
     {"data": {"name": "bars"}, "transform": [{"filter": "datum.gene=='Sox17'"}], "mark": {"type": "tick", "size": 8}, "encoding": {"x": {"field": "group", "type": "nominal"}, "y": {"field": "lo", "type": "quantitative", "axis": {"values": [0,0.05,0.1,0.15,0.2,0.25], "format": ".2f"}}}},
     {"data": {"name": "pts"}, "transform": [{"filter": "datum.gene=='Sox17'"}], "mark": "circle", "encoding": {"x": {"field": "group", "type": "nominal"}, "xOffset": {"field": "rep", "type": "nominal", "scale": {"paddingInner": 0, "paddingOuter": 0.5}}, "y": {"field": "value", "type": "quantitative", "axis": {"values": [0,0.05,0.1,0.15,0.2,0.25], "format": ".2f"}}}},
     {"data": {"name": "br"}, "transform": [{"filter": "datum.gene=='Sox17'"}], "mark": "rule", "encoding": {"x": {"field": "g1", "type": "nominal"}, "x2": {"field": "g2"}, "y": {"field": "y", "type": "quantitative", "axis": {"values": [0,0.05,0.1,0.15,0.2,0.25], "format": ".2f"}}}},
     {"data": {"name": "br"}, "transform": [{"filter": "datum.gene=='Sox17' && datum.g1!='OTX2-ERT2 d4 +Tam'"}], "mark": "rule", "encoding": {"x": {"field": "g1", "type": "nominal", "bandPosition": 0.5}, "y": {"field": "y", "type": "quantitative", "axis": {"values": [0,0.05,0.1,0.15,0.2,0.25], "format": ".2f"}}, "y2": {"field": "yl"}}},
     {"data": {"name": "br"}, "transform": [{"filter": "datum.gene=='Sox17' && datum.g1=='OTX2-ERT2 d4 +Tam'"}], "mark": "rule", "encoding": {"x": {"field": "g1", "type": "nominal", "bandPosition": 0.637}, "y": {"field": "y", "type": "quantitative", "axis": {"values": [0,0.05,0.1,0.15,0.2,0.25], "format": ".2f"}}, "y2": {"field": "yl"}}},
     {"data": {"name": "br"}, "transform": [{"filter": "datum.gene=='Sox17' && datum.g2!='OTX2-ERT2 d4 +Tam'"}], "mark": "rule", "encoding": {"x": {"field": "g2", "type": "nominal", "bandPosition": 0.5}, "y": {"field": "y", "type": "quantitative", "axis": {"values": [0,0.05,0.1,0.15,0.2,0.25], "format": ".2f"}}, "y2": {"field": "yr"}}},
     {"data": {"name": "br"}, "transform": [{"filter": "datum.gene=='Sox17' && datum.g2=='OTX2-ERT2 d4 +Tam'"}], "mark": "rule", "encoding": {"x": {"field": "g2", "type": "nominal", "bandPosition": 0.363}, "y": {"field": "y", "type": "quantitative", "axis": {"values": [0,0.05,0.1,0.15,0.2,0.25], "format": ".2f"}}, "y2": {"field": "yr"}}},
     {"data": {"name": "br"}, "transform": [{"filter": "datum.gene=='Sox17' && !(datum.g1=='OTX2-ERT2 d4 noTam' && datum.g2=='somatic d4')"}], "mark": "text", "encoding": {"x": {"field": "g1", "type": "nominal", "bandPosition": 1.235}, "y": {"field": "y", "type": "quantitative", "axis": {"values": [0,0.05,0.1,0.15,0.2,0.25], "format": ".2f"}}, "text": {"field": "label"}, "size": {"condition": {"test": "datum.label=='ns'", "value": 11}, "value": 14}}},
     {"data": {"name": "br"}, "transform": [{"filter": "datum.gene=='Sox17' && datum.g1=='OTX2-ERT2 d4 noTam' && datum.g2=='somatic d4'"}], "mark": "text", "encoding": {"x": {"field": "g1", "type": "nominal", "bandPosition": 1.97}, "y": {"field": "y", "type": "quantitative", "axis": {"values": [0,0.05,0.1,0.15,0.2,0.25], "format": ".2f"}}, "text": {"field": "label"}, "size": {"condition": {"test": "datum.label=='ns'", "value": 11}, "value": 14}}}
    ]},
    {"width": 89, "height": 132, "data": {"values": []}, "mark": "point", "encoding": {}},
    {"width": 89, "height": 132, "title": "Kdr", "layer": [
     {"data": {"name": "bars"}, "transform": [{"filter": "datum.gene=='Kdr'"}], "mark": "bar", "encoding": {"x": {"field": "group", "type": "nominal", "sort": null, "title": null, "scale": {"domain": ["OTX2-ERT2 d4 noTam", "OTX2-ERT2 d4 +Tam", "somatic d4"], "paddingInner": 0.32, "paddingOuter": 0.32}}, "y": {"field": "mean", "type": "quantitative", "title": "mRNA/TBP", "scale": {"domain": [0, 0.05], "nice": false}, "axis": {"values": [0,0.01,0.02,0.03,0.04,0.05], "format": ".2f"}}}},
     {"data": {"name": "bars"}, "transform": [{"filter": "datum.gene=='Kdr'"}], "mark": {"type": "rule", "stroke": "#222", "strokeWidth": 1.5}, "encoding": {"x": {"field": "group", "type": "nominal"}, "y": {"field": "lo", "type": "quantitative", "axis": {"values": [0,0.01,0.02,0.03,0.04,0.05], "format": ".2f"}}, "y2": {"field": "hi"}}},
     {"data": {"name": "bars"}, "transform": [{"filter": "datum.gene=='Kdr'"}], "mark": {"type": "tick", "size": 8}, "encoding": {"x": {"field": "group", "type": "nominal"}, "y": {"field": "hi", "type": "quantitative", "axis": {"values": [0,0.01,0.02,0.03,0.04,0.05], "format": ".2f"}}}},
     {"data": {"name": "bars"}, "transform": [{"filter": "datum.gene=='Kdr'"}], "mark": {"type": "tick", "size": 8}, "encoding": {"x": {"field": "group", "type": "nominal"}, "y": {"field": "lo", "type": "quantitative", "axis": {"values": [0,0.01,0.02,0.03,0.04,0.05], "format": ".2f"}}}},
     {"data": {"name": "pts"}, "transform": [{"filter": "datum.gene=='Kdr'"}], "mark": "circle", "encoding": {"x": {"field": "group", "type": "nominal"}, "xOffset": {"field": "rep", "type": "nominal", "scale": {"paddingInner": 0, "paddingOuter": 0.5}}, "y": {"field": "value", "type": "quantitative", "axis": {"values": [0,0.01,0.02,0.03,0.04,0.05], "format": ".2f"}}}},
     {"data": {"name": "br"}, "transform": [{"filter": "datum.gene=='Kdr'"}], "mark": "rule", "encoding": {"x": {"field": "g1", "type": "nominal"}, "x2": {"field": "g2"}, "y": {"field": "y", "type": "quantitative", "axis": {"values": [0,0.01,0.02,0.03,0.04,0.05], "format": ".2f"}}}},
     {"data": {"name": "br"}, "transform": [{"filter": "datum.gene=='Kdr' && datum.g1!='OTX2-ERT2 d4 +Tam'"}], "mark": "rule", "encoding": {"x": {"field": "g1", "type": "nominal", "bandPosition": 0.5}, "y": {"field": "y", "type": "quantitative", "axis": {"values": [0,0.01,0.02,0.03,0.04,0.05], "format": ".2f"}}, "y2": {"field": "yl"}}},
     {"data": {"name": "br"}, "transform": [{"filter": "datum.gene=='Kdr' && datum.g1=='OTX2-ERT2 d4 +Tam'"}], "mark": "rule", "encoding": {"x": {"field": "g1", "type": "nominal", "bandPosition": 0.637}, "y": {"field": "y", "type": "quantitative", "axis": {"values": [0,0.01,0.02,0.03,0.04,0.05], "format": ".2f"}}, "y2": {"field": "yl"}}},
     {"data": {"name": "br"}, "transform": [{"filter": "datum.gene=='Kdr' && datum.g2!='OTX2-ERT2 d4 +Tam'"}], "mark": "rule", "encoding": {"x": {"field": "g2", "type": "nominal", "bandPosition": 0.5}, "y": {"field": "y", "type": "quantitative", "axis": {"values": [0,0.01,0.02,0.03,0.04,0.05], "format": ".2f"}}, "y2": {"field": "yr"}}},
     {"data": {"name": "br"}, "transform": [{"filter": "datum.gene=='Kdr' && datum.g2=='OTX2-ERT2 d4 +Tam'"}], "mark": "rule", "encoding": {"x": {"field": "g2", "type": "nominal", "bandPosition": 0.363}, "y": {"field": "y", "type": "quantitative", "axis": {"values": [0,0.01,0.02,0.03,0.04,0.05], "format": ".2f"}}, "y2": {"field": "yr"}}},
     {"data": {"name": "br"}, "transform": [{"filter": "datum.gene=='Kdr' && !(datum.g1=='OTX2-ERT2 d4 noTam' && datum.g2=='somatic d4')"}], "mark": "text", "encoding": {"x": {"field": "g1", "type": "nominal", "bandPosition": 1.235}, "y": {"field": "y", "type": "quantitative", "axis": {"values": [0,0.01,0.02,0.03,0.04,0.05], "format": ".2f"}}, "text": {"field": "label"}, "size": {"condition": {"test": "datum.label=='ns'", "value": 11}, "value": 14}}},
     {"data": {"name": "br"}, "transform": [{"filter": "datum.gene=='Kdr' && datum.g1=='OTX2-ERT2 d4 noTam' && datum.g2=='somatic d4'"}], "mark": "text", "encoding": {"x": {"field": "g1", "type": "nominal", "bandPosition": 1.97}, "y": {"field": "y", "type": "quantitative", "axis": {"values": [0,0.01,0.02,0.03,0.04,0.05], "format": ".2f"}}, "text": {"field": "label"}, "size": {"condition": {"test": "datum.label=='ns'", "value": 11}, "value": 14}}}
    ]},
    {"width": 75, "height": 132, "data": {"values": []}, "mark": "point", "encoding": {}},
    {"width": 89, "height": 132, "title": "Sox1", "layer": [
     {"data": {"name": "bars"}, "transform": [{"filter": "datum.gene=='Sox1'"}], "mark": "bar", "encoding": {"x": {"field": "group", "type": "nominal", "sort": null, "title": null, "scale": {"domain": ["OTX2-ERT2 d4 noTam", "OTX2-ERT2 d4 +Tam", "somatic d4"], "paddingInner": 0.32, "paddingOuter": 0.32}}, "y": {"field": "mean", "type": "quantitative", "title": "mRNA/TBP", "scale": {"domain": [0, 2], "nice": false}, "axis": {"values": [0,0.5,1,1.5,2], "format": ".1f"}}}},
     {"data": {"name": "bars"}, "transform": [{"filter": "datum.gene=='Sox1'"}], "mark": {"type": "rule", "stroke": "#222", "strokeWidth": 1.5}, "encoding": {"x": {"field": "group", "type": "nominal"}, "y": {"field": "lo", "type": "quantitative", "axis": {"values": [0,0.5,1,1.5,2], "format": ".1f"}}, "y2": {"field": "hi"}}},
     {"data": {"name": "bars"}, "transform": [{"filter": "datum.gene=='Sox1'"}], "mark": {"type": "tick", "size": 8}, "encoding": {"x": {"field": "group", "type": "nominal"}, "y": {"field": "hi", "type": "quantitative", "axis": {"values": [0,0.5,1,1.5,2], "format": ".1f"}}}},
     {"data": {"name": "bars"}, "transform": [{"filter": "datum.gene=='Sox1'"}], "mark": {"type": "tick", "size": 8}, "encoding": {"x": {"field": "group", "type": "nominal"}, "y": {"field": "lo", "type": "quantitative", "axis": {"values": [0,0.5,1,1.5,2], "format": ".1f"}}}},
     {"data": {"name": "pts"}, "transform": [{"filter": "datum.gene=='Sox1'"}], "mark": "circle", "encoding": {"x": {"field": "group", "type": "nominal"}, "xOffset": {"field": "rep", "type": "nominal", "scale": {"paddingInner": 0, "paddingOuter": 0.5}}, "y": {"field": "value", "type": "quantitative", "axis": {"values": [0,0.5,1,1.5,2], "format": ".1f"}}}},
     {"data": {"name": "br"}, "transform": [{"filter": "datum.gene=='Sox1'"}], "mark": "rule", "encoding": {"x": {"field": "g1", "type": "nominal"}, "x2": {"field": "g2"}, "y": {"field": "y", "type": "quantitative", "axis": {"values": [0,0.5,1,1.5,2], "format": ".1f"}}}},
     {"data": {"name": "br"}, "transform": [{"filter": "datum.gene=='Sox1' && datum.g1!='OTX2-ERT2 d4 +Tam'"}], "mark": "rule", "encoding": {"x": {"field": "g1", "type": "nominal", "bandPosition": 0.5}, "y": {"field": "y", "type": "quantitative", "axis": {"values": [0,0.5,1,1.5,2], "format": ".1f"}}, "y2": {"field": "yl"}}},
     {"data": {"name": "br"}, "transform": [{"filter": "datum.gene=='Sox1' && datum.g1=='OTX2-ERT2 d4 +Tam'"}], "mark": "rule", "encoding": {"x": {"field": "g1", "type": "nominal", "bandPosition": 0.637}, "y": {"field": "y", "type": "quantitative", "axis": {"values": [0,0.5,1,1.5,2], "format": ".1f"}}, "y2": {"field": "yl"}}},
     {"data": {"name": "br"}, "transform": [{"filter": "datum.gene=='Sox1' && datum.g2!='OTX2-ERT2 d4 +Tam'"}], "mark": "rule", "encoding": {"x": {"field": "g2", "type": "nominal", "bandPosition": 0.5}, "y": {"field": "y", "type": "quantitative", "axis": {"values": [0,0.5,1,1.5,2], "format": ".1f"}}, "y2": {"field": "yr"}}},
     {"data": {"name": "br"}, "transform": [{"filter": "datum.gene=='Sox1' && datum.g2=='OTX2-ERT2 d4 +Tam'"}], "mark": "rule", "encoding": {"x": {"field": "g2", "type": "nominal", "bandPosition": 0.363}, "y": {"field": "y", "type": "quantitative", "axis": {"values": [0,0.5,1,1.5,2], "format": ".1f"}}, "y2": {"field": "yr"}}},
     {"data": {"name": "br"}, "transform": [{"filter": "datum.gene=='Sox1' && !(datum.g1=='OTX2-ERT2 d4 noTam' && datum.g2=='somatic d4')"}], "mark": "text", "encoding": {"x": {"field": "g1", "type": "nominal", "bandPosition": 1.235}, "y": {"field": "y", "type": "quantitative", "axis": {"values": [0,0.5,1,1.5,2], "format": ".1f"}}, "text": {"field": "label"}, "size": {"condition": {"test": "datum.label=='ns'", "value": 11}, "value": 14}}},
     {"data": {"name": "br"}, "transform": [{"filter": "datum.gene=='Sox1' && datum.g1=='OTX2-ERT2 d4 noTam' && datum.g2=='somatic d4'"}], "mark": "text", "encoding": {"x": {"field": "g1", "type": "nominal", "bandPosition": 1.97}, "y": {"field": "y", "type": "quantitative", "axis": {"values": [0,0.5,1,1.5,2], "format": ".1f"}}, "text": {"field": "label"}, "size": {"condition": {"test": "datum.label=='ns'", "value": 11}, "value": 14}}}
    ]},
    {"width": 89, "height": 132, "data": {"values": []}, "mark": "point", "encoding": {}},
    {"width": 89, "height": 132, "title": "Dlx5", "layer": [
     {"data": {"name": "bars"}, "transform": [{"filter": "datum.gene=='Dlx5'"}], "mark": "bar", "encoding": {"x": {"field": "group", "type": "nominal", "sort": null, "title": null, "scale": {"domain": ["OTX2-ERT2 d4 noTam", "OTX2-ERT2 d4 +Tam", "somatic d4"], "paddingInner": 0.32, "paddingOuter": 0.32}}, "y": {"field": "mean", "type": "quantitative", "title": "mRNA/TBP", "scale": {"domain": [0, 0.025], "nice": false}, "axis": {"values": [0,0.005,0.01,0.015,0.02,0.025], "format": ".3f"}}}},
     {"data": {"name": "bars"}, "transform": [{"filter": "datum.gene=='Dlx5'"}], "mark": {"type": "rule", "stroke": "#222", "strokeWidth": 1.5}, "encoding": {"x": {"field": "group", "type": "nominal"}, "y": {"field": "lo", "type": "quantitative", "axis": {"values": [0,0.005,0.01,0.015,0.02,0.025], "format": ".3f"}}, "y2": {"field": "hi"}}},
     {"data": {"name": "bars"}, "transform": [{"filter": "datum.gene=='Dlx5'"}], "mark": {"type": "tick", "size": 8}, "encoding": {"x": {"field": "group", "type": "nominal"}, "y": {"field": "hi", "type": "quantitative", "axis": {"values": [0,0.005,0.01,0.015,0.02,0.025], "format": ".3f"}}}},
     {"data": {"name": "bars"}, "transform": [{"filter": "datum.gene=='Dlx5'"}], "mark": {"type": "tick", "size": 8}, "encoding": {"x": {"field": "group", "type": "nominal"}, "y": {"field": "lo", "type": "quantitative", "axis": {"values": [0,0.005,0.01,0.015,0.02,0.025], "format": ".3f"}}}},
     {"data": {"name": "pts"}, "transform": [{"filter": "datum.gene=='Dlx5'"}], "mark": "circle", "encoding": {"x": {"field": "group", "type": "nominal"}, "xOffset": {"field": "rep", "type": "nominal", "scale": {"paddingInner": 0, "paddingOuter": 0.5}}, "y": {"field": "value", "type": "quantitative", "axis": {"values": [0,0.005,0.01,0.015,0.02,0.025], "format": ".3f"}}}},
     {"data": {"name": "br"}, "transform": [{"filter": "datum.gene=='Dlx5'"}], "mark": "rule", "encoding": {"x": {"field": "g1", "type": "nominal"}, "x2": {"field": "g2"}, "y": {"field": "y", "type": "quantitative", "axis": {"values": [0,0.005,0.01,0.015,0.02,0.025], "format": ".3f"}}}},
     {"data": {"name": "br"}, "transform": [{"filter": "datum.gene=='Dlx5' && datum.g1!='OTX2-ERT2 d4 +Tam'"}], "mark": "rule", "encoding": {"x": {"field": "g1", "type": "nominal", "bandPosition": 0.5}, "y": {"field": "y", "type": "quantitative", "axis": {"values": [0,0.005,0.01,0.015,0.02,0.025], "format": ".3f"}}, "y2": {"field": "yl"}}},
     {"data": {"name": "br"}, "transform": [{"filter": "datum.gene=='Dlx5' && datum.g1=='OTX2-ERT2 d4 +Tam'"}], "mark": "rule", "encoding": {"x": {"field": "g1", "type": "nominal", "bandPosition": 0.637}, "y": {"field": "y", "type": "quantitative", "axis": {"values": [0,0.005,0.01,0.015,0.02,0.025], "format": ".3f"}}, "y2": {"field": "yl"}}},
     {"data": {"name": "br"}, "transform": [{"filter": "datum.gene=='Dlx5' && datum.g2!='OTX2-ERT2 d4 +Tam'"}], "mark": "rule", "encoding": {"x": {"field": "g2", "type": "nominal", "bandPosition": 0.5}, "y": {"field": "y", "type": "quantitative", "axis": {"values": [0,0.005,0.01,0.015,0.02,0.025], "format": ".3f"}}, "y2": {"field": "yr"}}},
     {"data": {"name": "br"}, "transform": [{"filter": "datum.gene=='Dlx5' && datum.g2=='OTX2-ERT2 d4 +Tam'"}], "mark": "rule", "encoding": {"x": {"field": "g2", "type": "nominal", "bandPosition": 0.363}, "y": {"field": "y", "type": "quantitative", "axis": {"values": [0,0.005,0.01,0.015,0.02,0.025], "format": ".3f"}}, "y2": {"field": "yr"}}},
     {"data": {"name": "br"}, "transform": [{"filter": "datum.gene=='Dlx5' && !(datum.g1=='OTX2-ERT2 d4 noTam' && datum.g2=='somatic d4')"}], "mark": "text", "encoding": {"x": {"field": "g1", "type": "nominal", "bandPosition": 1.235}, "y": {"field": "y", "type": "quantitative", "axis": {"values": [0,0.005,0.01,0.015,0.02,0.025], "format": ".3f"}}, "text": {"field": "label"}, "size": {"condition": {"test": "datum.label=='ns'", "value": 11}, "value": 14}}},
     {"data": {"name": "br"}, "transform": [{"filter": "datum.gene=='Dlx5' && datum.g1=='OTX2-ERT2 d4 noTam' && datum.g2=='somatic d4'"}], "mark": "text", "encoding": {"x": {"field": "g1", "type": "nominal", "bandPosition": 1.97}, "y": {"field": "y", "type": "quantitative", "axis": {"values": [0,0.005,0.01,0.015,0.02,0.025], "format": ".3f"}}, "text": {"field": "label"}, "size": {"condition": {"test": "datum.label=='ns'", "value": 11}, "value": 14}}}
    ]}
   ]
  }
 ]}
]
}
